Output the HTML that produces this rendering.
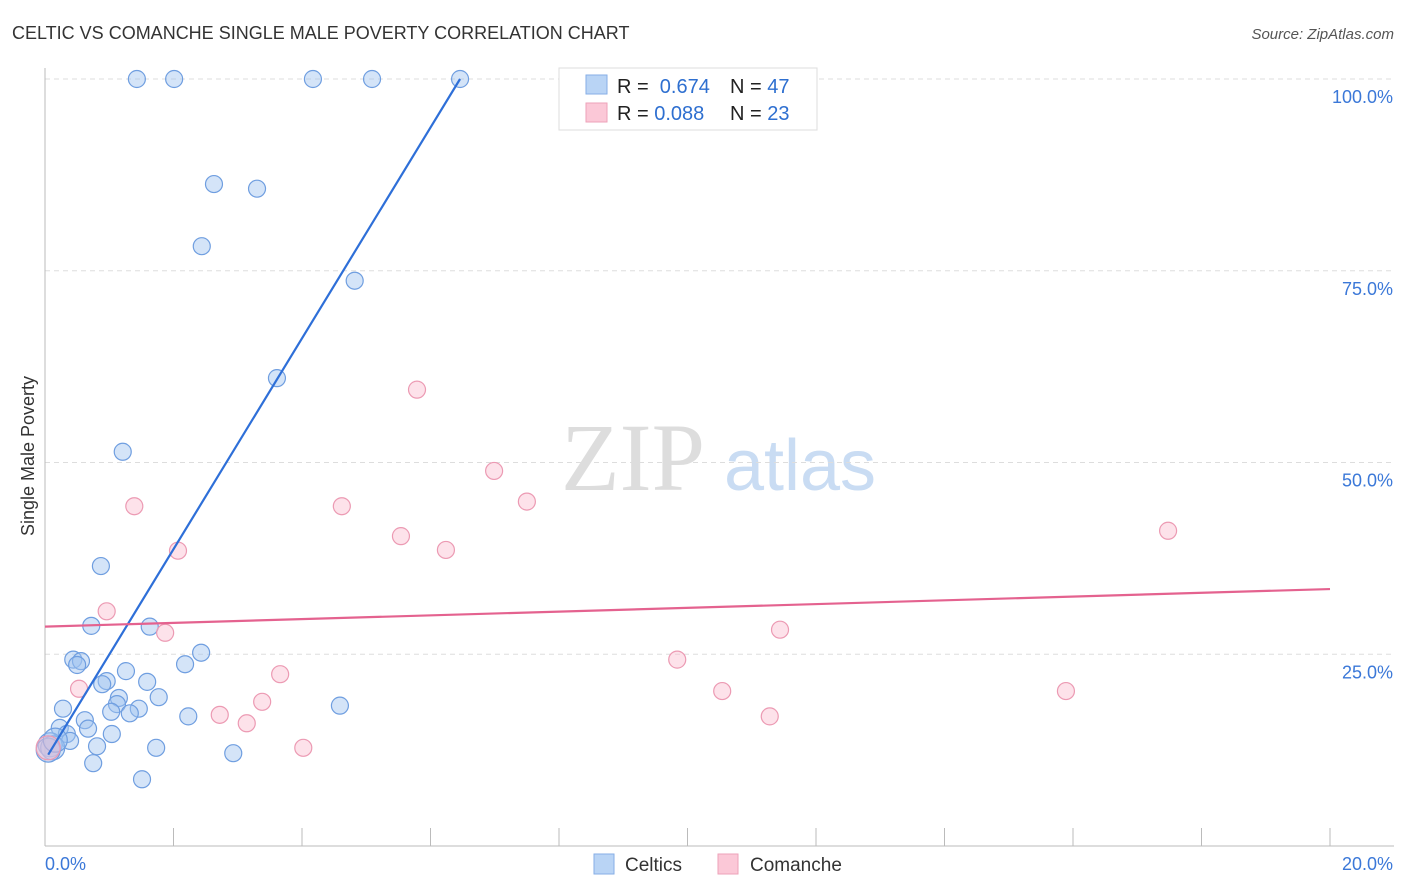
<!DOCTYPE html>
<html><head><meta charset="utf-8"><style>
body{margin:0;background:#fff;font-family:"Liberation Sans",sans-serif}
svg{display:block}
</style></head><body>
<svg width="1406" height="892" id="chart">
<text x="12" y="39" font-size="18" fill="#333">CELTIC VS COMANCHE SINGLE MALE POVERTY CORRELATION CHART</text>
<text x="1394" y="39" font-size="15" fill="#555" font-style="italic" text-anchor="end">Source: ZipAtlas.com</text>
<text x="34" y="456" font-size="18" fill="#333" transform="rotate(-90 34 456)" text-anchor="middle">Single Male Poverty</text>
<text x="633" y="490" font-size="96" fill="#ddd" font-family="Liberation Serif,serif" text-anchor="middle">ZIP</text>
<text x="800" y="490" font-size="72" fill="#c9dcf3" text-anchor="middle">atlas</text>
<g id="grid"></g><g id="axes"></g><g id="marks"></g>
<g>
<rect x="559" y="68" width="258" height="62" fill="#fff" stroke="#ddd"/>
<rect x="586" y="75" width="21" height="19" fill="#b9d4f5" stroke="#86aee6"/>
<rect x="586" y="103" width="21" height="19" fill="#fbc8d7" stroke="#eea2b8"/>
<text x="617" y="93" font-size="20" fill="#222">R = <tspan fill="#2e6fd0">&#160;0.674</tspan><tspan x="730">N = </tspan><tspan fill="#2e6fd0">47</tspan></text>
<text x="617" y="120" font-size="20" fill="#222">R = <tspan fill="#2e6fd0">0.088</tspan><tspan x="730">N = </tspan><tspan fill="#2e6fd0">23</tspan></text>
</g>
<g>
<rect x="594" y="854" width="20" height="20" fill="#b9d4f5" stroke="#86aee6"/>
<text x="625" y="871" font-size="19" fill="#333">Celtics</text>
<rect x="718" y="854" width="20" height="20" fill="#fbc8d7" stroke="#eea2b8"/>
<text x="750" y="871" font-size="19" fill="#333">Comanche</text>
</g>
</svg>
<script>
const celticsX=[1.43,2.01,4.17,5.09,6.46,2.63,3.30,2.44,4.82,3.61,1.21,0.87,0.72,1.63,0.44,0.56,0.50,2.43,2.18,1.26,0.96,0.89,1.59,1.15,1.77,1.12,1.46,1.03,1.32,2.23,0.28,0.62,0.23,0.67,1.04,0.34,0.39,0.81,1.73,4.59,2.93,0.75,1.51,0.08,0.12,0.05,0.16];
const celticsY=[100,100,100,100,100,86.3,85.7,78.2,73.7,61.0,51.4,36.5,28.7,28.6,24.3,24.1,23.6,25.2,23.7,22.8,21.5,21.1,21.4,19.3,19.4,18.5,17.9,17.5,17.3,16.9,17.9,16.4,15.4,15.3,14.6,14.6,13.7,13.0,12.8,18.3,12.1,10.8,8.7,13.2,12.8,12.5,13.8];
const comancheX=[5.79,6.99,1.39,4.62,7.50,5.54,6.24,2.07,17.48,0.96,1.87,11.44,9.84,0.53,10.54,15.89,3.66,3.38,11.28,2.72,3.14,4.02,0.05];
const comancheY=[59.5,48.9,44.3,44.3,44.9,40.4,38.6,38.5,41.1,30.6,27.8,28.2,24.3,20.5,20.2,20.2,22.4,18.8,16.9,17.1,16.0,12.8,12.8];
const celticsTrendX=[0.05,6.46];
const celticsTrendY=[11.9,100];
const comancheTrendX=[0,20];
const comancheTrendY=[28.6,33.5];
const yTicks=[25,50,75,100];
const yTickLabels=["25.0%","50.0%","75.0%","100.0%"];
const xTicks=[0,2,4,6,8,10,12,14,16,18,20];
const NS="http://www.w3.org/2000/svg";
const sx=v=>45+v*(1285/20);
const sy=v=>846-v*7.67;
function mk(tag,attrs,parent){const e=document.createElementNS(NS,tag);for(const k in attrs)e.setAttribute(k,attrs[k]);document.getElementById(parent).appendChild(e);return e;}
yTicks.forEach((t,i)=>{
 const l=mk('line',{x1:45,x2:1394,y1:sy(t),y2:sy(t),stroke:'#ddd','stroke-dasharray':'5,4'},'grid');
 
 
 const tx=mk('text',{x:1393,y:sy(t)+24,'font-size':18,fill:'#3b78d8','text-anchor':'end'},'grid');
 tx.textContent=yTickLabels[i];
 
 
});
const ax=mk('line',{x1:45,x2:45,y1:68,y2:846,stroke:'#bbb'},'axes');


const bx=mk('line',{x1:45,x2:1394,y1:846,y2:846,stroke:'#bbb'},'axes');


xTicks.forEach(t=>{
 const l=mk('line',{x1:sx(t),x2:sx(t),y1:828,y2:846,stroke:'#bbb'},'axes');
 
 
});
const xl0=mk('text',{x:45,y:870,'font-size':18,fill:'#3b78d8'},'axes');
xl0.textContent=xTicks[0].toFixed(1)+'%';


const xl1=mk('text',{x:1393,y:870,'font-size':18,fill:'#3b78d8','text-anchor':'end'},'axes');
xl1.textContent=xTicks[xTicks.length-1].toFixed(1)+'%';


celticsX.forEach((x,i)=>{
 const c=mk('circle',{cx:sx(x),cy:sy(celticsY[i]),r:(i>=43?12:8.5),fill:'rgba(160,196,240,0.45)',stroke:'#6f9ee0','stroke-width':1.2},'marks');
 
 
});
comancheX.forEach((x,i)=>{
 const c=mk('circle',{cx:sx(x),cy:sy(comancheY[i]),r:(i==22?12:8.5),fill:'rgba(250,190,208,0.45)',stroke:'#ec9ab3','stroke-width':1.2},'marks');
 
 
});
const t1=mk('line',{x1:sx(celticsTrendX[0]),y1:sy(celticsTrendY[0]),x2:sx(celticsTrendX[1]),y2:sy(celticsTrendY[1]),stroke:'#2e6fd8','stroke-width':2.2},'marks');


const t2=mk('line',{x1:sx(comancheTrendX[0]),y1:sy(comancheTrendY[0]),x2:sx(comancheTrendX[1]),y2:sy(comancheTrendY[1]),stroke:'#e4628f','stroke-width':2.2},'marks');


</script>
</body></html>
